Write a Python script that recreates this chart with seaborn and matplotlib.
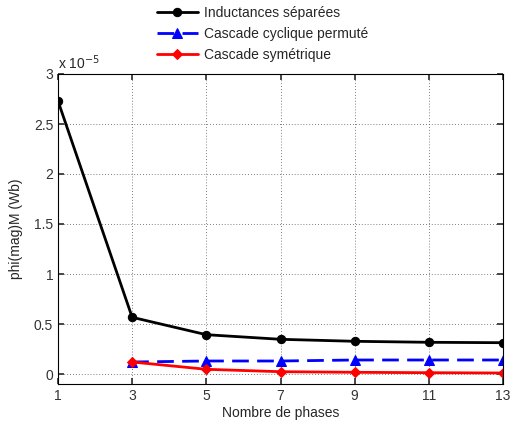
import numpy as np
import pandas as pd
import matplotlib
matplotlib.use("Agg")
import matplotlib.pyplot as plt
import seaborn as sns

# ==================================================
# DATA (units of 1e-5 Wb)
# ==================================================
phases = [1, 3, 5, 7, 9, 11, 13]
separees = [2.73, 0.567, 0.393, 0.347, 0.327, 0.317, 0.313]
phases_cascade = [3, 5, 7, 9, 11, 13]
cyclique = [0.12, 0.13, 0.13, 0.14, 0.14, 0.14]
symetrique = [0.12, 0.047, 0.023, 0.017, 0.013, 0.01]

labels = ["Inductances séparées", "Cascade cyclique permuté", "Cascade symétrique"]

sns.set_theme(style="ticks")
plt.rcParams['font.family'] = ['Liberation Sans', 'DejaVu Sans']
plt.rcParams['font.size'] = 10
plt.rcParams['xtick.direction'] = 'in'
plt.rcParams['ytick.direction'] = 'in'

df_sep = pd.DataFrame({'x': phases, 'y': np.array(separees) * 1e-5})
df_cyc = pd.DataFrame({'x': phases_cascade, 'y': np.array(cyclique) * 1e-5})
df_sym = pd.DataFrame({'x': phases_cascade, 'y': np.array(symetrique) * 1e-5})

fig = plt.figure(figsize=(5.11, 4.28), dpi=100)
ax = fig.add_axes([58 / 511, 1 - 384 / 428, 445 / 511, 310 / 428])

sns.lineplot(data=df_sep, x='x', y='y', ax=ax, color='black', lw=2,
             marker='o', markersize=6, markeredgecolor='black', label=labels[0])
sns.lineplot(data=df_cyc, x='x', y='y', ax=ax, color='blue', lw=2,
             marker='^', markersize=7, markeredgecolor='blue', label=labels[1])
ax.lines[-1].set_dashes([6, 3])
sns.lineplot(data=df_sym, x='x', y='y', ax=ax, color='red', lw=2,
             marker='D', markersize=5, markeredgecolor='red', label=labels[2])

ax.set_xlim(1, 13)
ax.set_ylim(-0.1e-5, 3e-5)
ax.set_xticks([1, 3, 5, 7, 9, 11, 13])
ax.set_yticks(np.arange(0, 3.01, 0.5) * 1e-5)
ax.set_yticklabels(['0', '0.5', '1', '1.5', '2', '2.5', '3'])
ax.text(0, 1.005, r'x 10$^{-5}$', transform=ax.transAxes, fontsize=10,
        va='bottom', ha='left')
ax.grid(True, linestyle=(0, (1, 2.5)), color='#555555', lw=0.6)
ax.tick_params(top=True, right=True, length=4, labelsize=10, colors='#333333')
for s in ax.spines.values():
    s.set_visible(True)
    s.set_color('black')
    s.set_linewidth(0.8)

ax.set_xlabel('Nombre de phases', fontsize=10, labelpad=2)
ax.set_ylabel('phi(mag)M (Wb)', fontsize=10, labelpad=8)

leg = ax.legend(loc='lower center', bbox_to_anchor=(0.459, 1.039), frameon=False,
                fontsize=10, handlelength=3, handletextpad=0.4,
                labelspacing=0.5, borderaxespad=0, borderpad=0)
fig.savefig('out.png', dpi=100)
